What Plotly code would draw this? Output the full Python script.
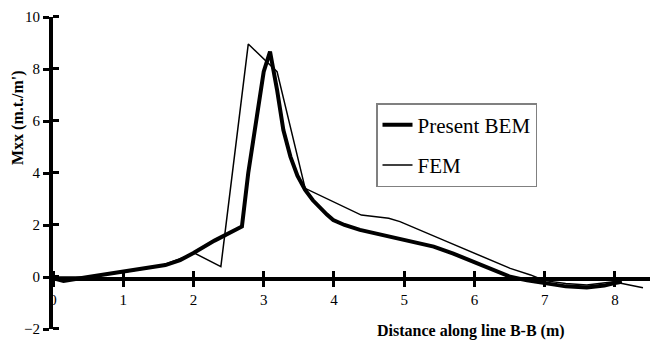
import plotly.graph_objects as go

# Data
bem_x = [0, 0.15, 0.5, 0.95, 1.3, 1.6, 1.81, 2.0, 2.3, 2.69, 2.78, 2.83, 2.88, 2.95, 3.0, 3.09,
         3.19, 3.28, 3.38, 3.48, 3.59, 3.7, 3.8, 3.9, 3.99, 4.15, 4.37, 4.6, 4.94, 5.2, 5.42,
         5.7, 5.99, 6.25, 6.51, 6.75, 7.0, 7.3, 7.6, 7.85, 7.98, 8.1]
bem_y = [-0.05, -0.15, 0.0, 0.2, 0.33, 0.46, 0.65, 0.92, 1.4, 1.94, 4.0, 4.9, 6.0, 7.0, 7.9, 8.67,
         7.2, 5.65, 4.63, 3.9, 3.35, 2.95, 2.65, 2.4, 2.19, 2.0, 1.81, 1.67, 1.45, 1.3, 1.17,
         0.9, 0.59, 0.3, 0.01, -0.13, -0.24, -0.36, -0.4, -0.33, -0.24, -0.18]

fem_x = [0, 0.5, 1.0, 1.5, 2.02, 2.39, 2.78, 3.04, 3.19, 3.59, 4.39, 4.78, 4.94, 5.56, 6.13,
         6.51, 6.8, 7.0, 7.3, 7.6, 7.98, 8.4]
fem_y = [0, 0.0, 0.18, 0.4, 0.91, 0.4, 8.96, 8.28, 7.9, 3.41, 2.38, 2.26, 2.13, 1.42, 0.78,
         0.33, 0.08, -0.14, -0.25, -0.31, -0.18, -0.41]

x_ticks = [0, 1, 2, 3, 4, 5, 6, 7, 8]
y_ticks_pos = [0, 2, 4, 6, 8, 10]
y_ticks_neg = [-2]
x_range = [0, 8.5]
y_range = [-2, 10]

FONT = "Liberation Serif"
EPS = 0.0005  # tiny offset so the inner half of each cross tick is kept as a minor tick

# Upper panel (y >= 0) and lower panel (y <= 0) share the x scale so that the
# x axis sits on the y = 0 line, as in the reference.
split = (0 - y_range[0]) / (y_range[1] - y_range[0])

fig = go.Figure()
for xa, ya, show in (("x", "y", True), ("x2", "y2", False)):
    fig.add_trace(go.Scatter(x=bem_x, y=bem_y, mode="lines", name="Present BEM",
                             line=dict(color="black", width=4), xaxis=xa, yaxis=ya,
                             showlegend=show, legendgroup="bem"))
    fig.add_trace(go.Scatter(x=fem_x, y=fem_y, mode="lines", name="FEM",
                             line=dict(color="black", width=1.5), xaxis=xa, yaxis=ya,
                             showlegend=show, legendgroup="fem"))

tick_style = dict(ticklen=6, tickwidth=3, tickcolor="black", automargin=False,
                  layer="above traces")


def minor(vals):
    return dict(tickmode="array", tickvals=[v + EPS for v in vals], ticks="inside",
                ticklen=6, tickwidth=3, tickcolor="black", showgrid=False)


fig.update_layout(
    template="simple_white",
    width=655, height=341,
    margin=dict(l=53, r=5, t=17, b=12, autoexpand=False),
    xaxis=dict(range=x_range, tickvals=x_ticks, ticks="outside", showline=True,
               anchor="y", linecolor="black", linewidth=4, minor=minor(x_ticks),
               tickfont=dict(family=FONT, size=15, color="black"), **tick_style),
    yaxis=dict(range=[0, y_range[1]], domain=[split, 1], tickvals=y_ticks_pos,
               ticks="outside", showline=True, anchor="x", linecolor="black", linewidth=4,
               minor=minor(y_ticks_pos),
               tickfont=dict(family=FONT, size=15, color="black"), **tick_style),
    xaxis2=dict(range=x_range, matches="x", anchor="y2", visible=False, automargin=False),
    yaxis2=dict(range=[y_range[0], 0], domain=[0, split], tickvals=y_ticks_neg,
                ticks="outside", showline=True, anchor="x2", linecolor="black", linewidth=4,
                minor=minor(y_ticks_neg),
                tickfont=dict(family=FONT, size=15, color="black"), **tick_style),
    showlegend=True,
    legend=dict(x=(376 - 53) / 597, y=1 - (103 - 17) / 312, xanchor="left", yanchor="top",
                bordercolor="#808080", borderwidth=1.5, bgcolor="white",
                font=dict(family=FONT, size=21, color="black")),
    annotations=[
        dict(text="<b>Distance along line B-B (m)</b>", xref="paper", yref="paper",
             x=(471 - 53) / 597, y=1 - (331 - 17) / 312, xanchor="center", yanchor="middle",
             showarrow=False, font=dict(family=FONT, size=16, color="black")),
        dict(text="<b>Mxx (m.t./m')</b>", xref="paper", yref="paper",
             x=-(53 - 18) / 597, y=1 - (118 - 17) / 312, xanchor="center", yanchor="middle",
             textangle=-90, showarrow=False, font=dict(family=FONT, size=16, color="black")),
    ],
)

fig.write_html("out.html")
